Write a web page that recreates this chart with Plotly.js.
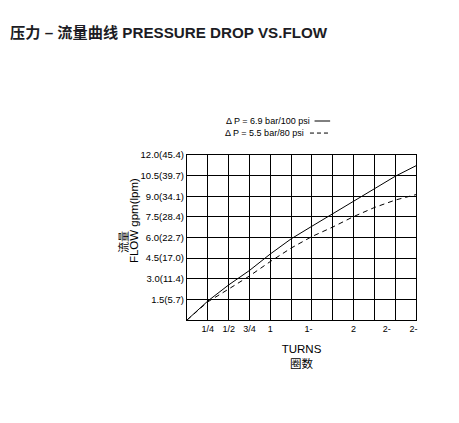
<!DOCTYPE html>
<html>
<head>
<meta charset="utf-8">
<script src="https://cdn.plot.ly/plotly-3.0.1.min.js"></script>
<style>
  html, body { margin: 0; padding: 0; background: #fff; }
  #chart { width: 459px; height: 423px; }
</style>
</head>
<body>
<div id="chart"></div>
<script>
// turns of the adjusting screw (one grid column = 1/4 turn)
var turns = [0, 0.25, 0.5, 0.75, 1, 1.25, 1.5, 1.75, 2, 2.25, 2.5, 2.75];
// flow in gpm
var flowHigh = [0, 1.38, 2.55, 3.6, 4.8, 5.9, 6.82, 7.72, 8.65, 9.52, 10.45, 11.22];  // 6.9 bar / 100 psi
var flowLow = [0, 1.32, 2.25, 3.2, 4.25, 5.23, 6.07, 6.76, 7.52, 8.18, 8.72, 9.12];    // 5.5 bar / 80 psi

var seriesNames = ['\u0394 P = 6.9 bar/100 psi', '\u0394 P = 5.5 bar/80 psi'];

var xTickVals = [0.25, 0.5, 0.75, 1, 1.46, 2, 2.4, 2.72];
var xTickText = ['1/4', '1/2', '3/4', '1', '1-', '2', '2-', '2-'];
var yTickVals = [1.5, 3.0, 4.5, 6.0, 7.5, 9.0, 10.5, 12.0];
var yTickText = ['1.5(5.7)', '3.0(11.4)', '4.5(17.0)', '6.0(22.7)', '7.5(28.4)', '9.0(34.1)', '10.5(39.7)', '12.0(45.4)'];

var FONT = 'Liberation Sans, Arial, Noto Sans CJK SC, sans-serif';

function buildChart() {
  var solid = {
    x: turns, y: flowHigh, type: 'scatter', mode: 'lines',
    name: seriesNames[0],
    line: {color: '#000', width: 1}
  };
  var dashed = {
    x: turns, y: flowLow, type: 'scatter', mode: 'lines',
    name: seriesNames[1],
    line: {color: '#000', width: 1, dash: '5px,4px'}
  };

  var layout = {
    width: 459, height: 423,
    margin: {l: 187, r: 43, t: 155, b: 103},
    paper_bgcolor: '#fff', plot_bgcolor: '#fff',
    showlegend: false,
    font: {family: FONT, color: '#000', size: 9},
    title: {
      text: '<b>压力 – 流量曲线 PRESSURE DROP VS.FLOW</b>',
      xref: 'container', x: 0.022, xanchor: 'left',
      yref: 'container', y: 0.922, yanchor: 'middle',
      font: {family: FONT, size: 15.2, color: '#1c1c24'}
    },
    xaxis: {
      range: [0, 2.75], fixedrange: true,
      tickmode: 'array', tickvals: xTickVals, ticktext: xTickText,
      ticks: '', showgrid: false, zeroline: false,
      showline: true, mirror: true, linecolor: '#000', linewidth: 1.2,
      minor: {tickmode: 'linear', tick0: 0, dtick: 0.25, showgrid: true, gridcolor: '#000', gridwidth: 1},
      tickfont: {size: 9},
      title: {text: 'TURNS<br>圈数', standoff: 12, font: {size: 11.5}}
    },
    yaxis: {
      range: [0, 12], fixedrange: true,
      tickmode: 'array', tickvals: yTickVals, ticktext: yTickText,
      ticks: '', showgrid: true, gridcolor: '#000', gridwidth: 1, zeroline: false,
      showline: true, mirror: true, linecolor: '#000', linewidth: 1.2,
      tickfont: {size: 9.5}
    },
    annotations: [
      // legend entries, sample line drawn to the right of the text
      {xref: 'paper', yref: 'paper', x: 0.546, y: 1.206, xanchor: 'right', yanchor: 'middle',
       text: seriesNames[0], showarrow: false, font: {size: 9}},
      {xref: 'paper', yref: 'paper', x: 0.52, y: 1.133, xanchor: 'right', yanchor: 'middle',
       text: seriesNames[1], showarrow: false, font: {size: 9}},
      // y axis title, two lines placed separately
      {xref: 'paper', yref: 'paper', x: -0.275, y: 0.473, xanchor: 'center', yanchor: 'middle',
       text: '流量', textangle: -90, showarrow: false, font: {size: 11}},
      {xref: 'paper', yref: 'paper', x: -0.231, y: 0.6, xanchor: 'center', yanchor: 'middle',
       text: 'FLOW gpm(lpm)', textangle: -90, showarrow: false, font: {size: 11.5}}
    ],
    shapes: [
      {type: 'line', xref: 'paper', yref: 'paper', x0: 0.557, x1: 0.625, y0: 1.206, y1: 1.206,
       line: {color: '#000', width: 1}},
      {type: 'line', xref: 'paper', yref: 'paper', x0: 0.537, x1: 0.625, y0: 1.133, y1: 1.133,
       line: {color: '#000', width: 1, dash: '4px,3px'}}
    ]
  };

  Plotly.newPlot('chart', [solid, dashed], layout, {displayModeBar: false, staticPlot: true});
}

buildChart();
</script>
</body>
</html>
